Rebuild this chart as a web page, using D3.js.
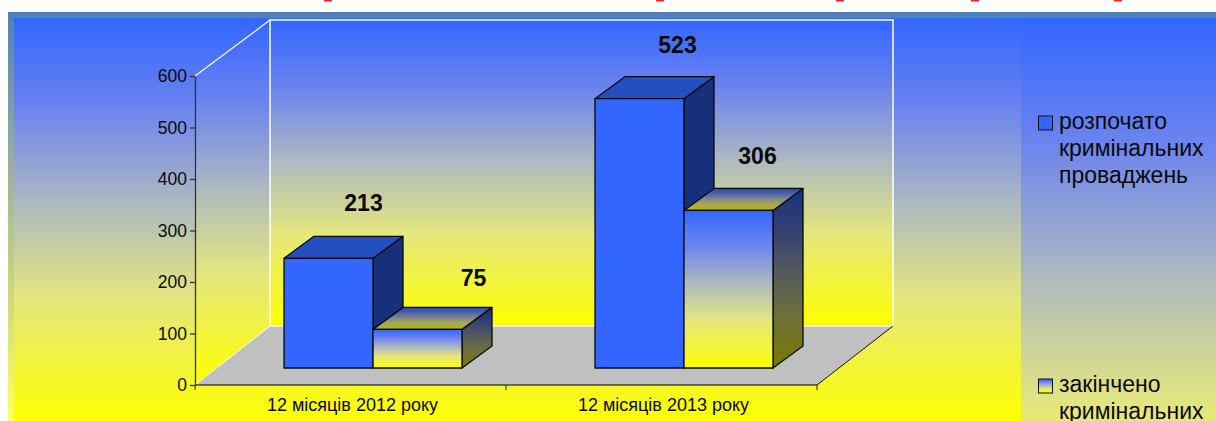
<!DOCTYPE html>
<html>
<head>
<meta charset="utf-8">
<script src="https://cdn.jsdelivr.net/npm/d3@7"></script>
<style>
html, body { margin: 0; padding: 0; background: #fff; overflow: hidden; }
svg { display: block; }
text { font-family: "Liberation Sans", Arial, sans-serif; fill: #0a0a0a; }
</style>
</head>
<body>
<div class="central"></div>
<script>
//Chart data
var categories = ["12 місяців 2012 року", "12 місяців 2013 року"];
var seriesNames = ["розпочато кримінальних проваджень", "закінчено кримінальних"];
var started = [213, 523];
var finished = [75, 306];
var yTicks = [0, 100, 200, 300, 400, 500, 600];

//Legend wraps by hand, the second entry runs off the bottom of the picture
var legendLines = [["розпочато", "кримінальних", "проваджень"], ["закінчено", "кримінальних"]];

//Red bits of the title that is cut off by the top of the picture
var titleBits = [328, 660, 840, 975, 1118];

//Width and height of picture
var width = 1216,
	height = 421;

//Plot box, in pixels
var plot = {left: 195, right: 817, bottom: 385, top: 76, dx: 75, dy: 58};
var depth = {dx: 30, dy: 22};

var y = d3.scaleLinear().domain([0, 600]).range([plot.bottom, plot.top]);
var x0 = d3.scaleBand().domain(categories).range([plot.left, plot.right]);
var x1 = d3.scaleBand().domain([0, 1]).range([89, 267]);

//Bars stand a bit in front of the axis plane
var barBase = 368;
var h = function(v){ return plot.bottom - y(v); };

//Labels were placed by hand in the original, so each has its own nudge
var labelNudge = [[[0, 0], [21, 4]], [[3, 1], [-6, 1]]];

var svg = d3.select(".central")
			.append("svg")
			.attr("width", width)
			.attr("height", height);

var defs = svg.append("defs");

//Same blue to yellow fill everywhere, only over different lengths
var stops = [[0, "#3366ff"], [0.22, "#6b83ef"], [0.46, "#adb9c0"], [0.7, "#e5e77c"], [1, "#ffff00"]];

var makeGradient = function(id, shade, coords){
	var g = defs.append("linearGradient").attr("id", id);
	if(coords){
		g.attr("gradientUnits", "userSpaceOnUse")
			.attr("x1", 0).attr("x2", 0)
			.attr("y1", coords[0]).attr("y2", coords[1]);
	} else {
		g.attr("x1", 0).attr("x2", 0).attr("y1", 0).attr("y2", 1);
	}
	g.selectAll("stop")
		.data(stops)
		.enter()
		.append("stop")
		.attr("offset", function(d){ return d[0]; })
		.attr("stop-color", function(d){
			var c = d3.rgb(d[1]);
			return d3.rgb(c.r * shade, c.g * shade, c.b * shade).formatHex();
		});
	return g;
};

makeGradient("bgFill", 1, [18, 421]);
makeGradient("legendFill", 1, [18, 578]);
makeGradient("wallFill", 1, [20, 326]);
makeGradient("sideWallFill", 1, [20, 385]);
makeGradient("barFront", 1);
makeGradient("barTop", 0.72);
makeGradient("barSide", 0.48);

var borderFill = defs.append("linearGradient")
	.attr("id", "borderFill")
	.attr("x1", 0).attr("x2", 0).attr("y1", 0).attr("y2", 1);
borderFill.append("stop").attr("offset", 0).attr("stop-color", "#5080b8");
borderFill.append("stop").attr("offset", 0.46).attr("stop-color", "#a8bc90");
borderFill.append("stop").attr("offset", 1).attr("stop-color", "#ffff66");

//Panel
svg.append("rect").attr("x", 8).attr("y", 12).attr("width", width - 8).attr("height", height - 12).style("fill", "url(#borderFill)");
svg.append("rect").attr("x", 14).attr("y", 18).attr("width", width - 14).attr("height", height - 18).style("fill", "url(#bgFill)");
svg.append("rect").attr("x", 1021).attr("y", 18).attr("width", width - 1021).attr("height", height - 18).style("fill", "url(#legendFill)");

svg.selectAll(".titleBit")
	.data(titleBits)
	.enter()
	.append("rect")
	.attr("class", "titleBit")
	.attr("x", function(d){ return d - 4; })
	.attr("y", 0)
	.attr("width", 8)
	.attr("height", 1.5)
	.style("fill", "#ff2020");

var pts = function(a){ return a.map(function(p){ return p.join(","); }).join(" "); };

var topY = plot.top - 56,
	backY = plot.bottom - 59,
	backL = plot.left + plot.dx,
	backR = plot.right + 76;

//Walls and floor
svg.append("polygon")
	.attr("points", pts([[plot.left, plot.top], [backL, topY], [backL, backY], [plot.left, plot.bottom]]))
	.style("fill", "url(#sideWallFill)");
svg.append("rect")
	.attr("x", backL).attr("y", topY)
	.attr("width", backR - backL).attr("height", backY - topY)
	.style("fill", "url(#wallFill)")
	.style("stroke", "#fff")
	.style("stroke-width", 1.5);
svg.append("polygon")
	.attr("points", pts([[plot.left, plot.bottom], [backL, backY], [backR, backY], [plot.right, plot.bottom]]))
	.style("fill", "#c0c0c0");
svg.append("line")
	.attr("x1", backL).attr("y1", backY).attr("x2", backR).attr("y2", backY)
	.style("stroke", "#fff").style("stroke-width", 1.5);
svg.append("line")
	.attr("x1", plot.left).attr("y1", plot.bottom).attr("x2", backL).attr("y2", backY)
	.style("stroke", "#fff");
svg.append("line")
	.attr("x1", plot.left).attr("y1", plot.top).attr("x2", backL).attr("y2", topY)
	.style("stroke", "#fff").style("stroke-width", 1.2);
svg.append("line")
	.attr("x1", plot.right).attr("y1", plot.bottom).attr("x2", backR).attr("y2", backY)
	.style("stroke", "#111");

//Axes
var yAxis = d3.axisLeft(y).tickValues(yTicks).tickSize(5).tickPadding(3).tickSizeOuter(0);
var yG = svg.append("g").attr("transform", "translate(" + plot.left + ",0)").call(yAxis);
yG.selectAll("text").style("font-size", "17.5px");
yG.selectAll("line, path").style("stroke", "#333").style("stroke-width", 1.3);

var xAxisLine = svg.append("g");
xAxisLine.append("line")
	.attr("x1", plot.left).attr("x2", plot.right)
	.attr("y1", plot.bottom).attr("y2", plot.bottom)
	.style("stroke", "#000").style("stroke-width", 1.2);
xAxisLine.selectAll(".tick")
	.data([plot.left, x0(categories[1]), plot.right])
	.enter()
	.append("line")
	.attr("class", "tick")
	.attr("x1", function(d){ return d; }).attr("x2", function(d){ return d; })
	.attr("y1", plot.bottom).attr("y2", plot.bottom + 5)
	.style("stroke", "#222");
svg.selectAll(".cat")
	.data(categories)
	.enter()
	.append("text")
	.attr("class", "cat")
	.attr("x", function(d){ return x0(d) + x0.bandwidth() / 2 + 2; })
	.attr("y", 411)
	.attr("text-anchor", "middle")
	.style("font-size", "18px")
	.text(function(d){ return d; });

//Bars, back to front
var seriesValues = [started, finished];
var barFills = [
	{front: "#3366ff", top: "#244fc0", side: "#17307c"},
	{front: "url(#barFront)", top: "url(#barTop)", side: "url(#barSide)"}
];

categories.forEach(function(cat, c){
	seriesValues.forEach(function(vals, s){
		var v = vals[c];
		var l = x0(cat) + x1(s),
			r = l + x1.bandwidth(),
			t = barBase - h(v),
			b = barBase;
		var g = svg.append("g").attr("class", "bar");
		g.append("polygon")
			.attr("points", pts([[r, t], [r + depth.dx, t - depth.dy], [r + depth.dx, b - depth.dy], [r, b]]))
			.style("fill", barFills[s].side);
		g.append("polygon")
			.attr("points", pts([[l, t], [l + depth.dx, t - depth.dy], [r + depth.dx, t - depth.dy], [r, t]]))
			.style("fill", barFills[s].top);
		g.append("rect")
			.attr("x", l).attr("y", t)
			.attr("width", r - l).attr("height", b - t)
			.style("fill", barFills[s].front);
		g.selectAll("polygon, rect")
			.style("stroke", "#0a0a0a")
			.style("stroke-width", 1.3)
			.style("stroke-linejoin", "round");
		g.append("text")
			.attr("x", (l + r) / 2 + 35 + labelNudge[c][s][0])
			.attr("y", t - 47 + labelNudge[c][s][1])
			.attr("text-anchor", "middle")
			.style("font-size", "23px")
			.style("font-weight", "bold")
			.text(v);
	});
});

//Legend
var legendY = [129, 392];
var legend = svg.selectAll(".legendItem")
	.data(seriesNames)
	.enter()
	.append("g")
	.attr("class", "legendItem")
	.attr("transform", function(d, i){ return "translate(1038," + legendY[i] + ")"; });
legend.append("rect")
	.attr("x", 0.5).attr("y", -13)
	.attr("width", 14).attr("height", 14)
	.style("stroke", "#111")
	.style("fill", function(d, i){ return i == 0 ? barFills[i].front : "url(#barFront)"; });
legend.each(function(d, i){
	d3.select(this).selectAll("text")
		.data(legendLines[i])
		.enter()
		.append("text")
		.attr("x", 21)
		.attr("y", function(line, j){ return j * 27; })
		.style("font-size", "23px")
		.text(function(line){ return line; });
});
</script>
</body>
</html>
